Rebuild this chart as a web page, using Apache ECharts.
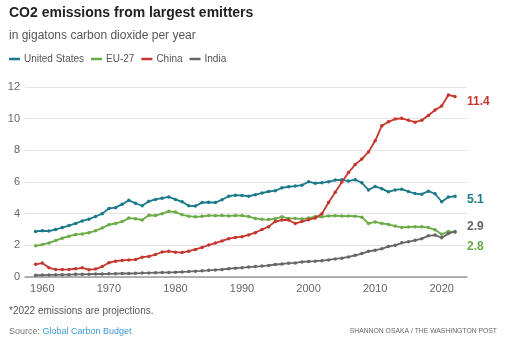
<!DOCTYPE html>
<html>
<head>
<meta charset="utf-8">
<script src="https://cdn.jsdelivr.net/npm/echarts@6/dist/echarts.min.js"></script>
<style>
html,body{margin:0;padding:0;background:#fff;}
#chart{width:512px;height:348px;}
</style>
</head>
<body>
<div id="chart"></div>
<script>
const years = [1959,1960,1961,1962,1963,1964,1965,1966,1967,1968,
  1969,1970,1971,1972,1973,1974,1975,1976,1977,1978,
  1979,1980,1981,1982,1983,1984,1985,1986,1987,1988,
  1989,1990,1991,1992,1993,1994,1995,1996,1997,1998,
  1999,2000,2001,2002,2003,2004,2005,2006,2007,2008,
  2009,2010,2011,2012,2013,2014,2015,2016,2017,2018,
  2019,2020,2021,2022];
const unitedStates = [2.88,2.92,2.90,3.00,3.12,3.25,3.38,3.54,3.65,3.82,
  4.00,4.33,4.38,4.60,4.84,4.66,4.50,4.78,4.90,4.98,
  5.06,4.90,4.75,4.50,4.48,4.70,4.72,4.70,4.88,5.10,
  5.17,5.15,5.10,5.20,5.30,5.40,5.45,5.63,5.70,5.74,
  5.80,6.02,5.92,5.96,6.01,6.12,6.14,6.06,6.15,5.95,
  5.50,5.72,5.58,5.38,5.50,5.55,5.40,5.27,5.23,5.42,
  5.26,4.75,5.05,5.10];
const eu27 = [1.97,2.05,2.15,2.30,2.45,2.58,2.68,2.72,2.80,2.92,
  3.10,3.30,3.38,3.50,3.72,3.68,3.60,3.90,3.88,4.00,
  4.15,4.10,3.93,3.84,3.80,3.83,3.88,3.87,3.88,3.86,
  3.88,3.88,3.82,3.70,3.64,3.63,3.68,3.80,3.70,3.70,
  3.66,3.72,3.82,3.80,3.86,3.87,3.85,3.86,3.84,3.78,
  3.38,3.48,3.38,3.32,3.22,3.13,3.16,3.17,3.18,3.12,
  2.98,2.70,2.88,2.83];
const china = [0.80,0.88,0.58,0.48,0.47,0.48,0.52,0.58,0.46,0.50,
  0.66,0.90,1.00,1.05,1.08,1.10,1.25,1.30,1.42,1.58,
  1.62,1.57,1.54,1.63,1.74,1.87,2.02,2.14,2.28,2.42,
  2.50,2.55,2.66,2.80,3.00,3.18,3.50,3.60,3.60,3.38,
  3.50,3.62,3.72,4.00,4.70,5.35,6.00,6.60,7.10,7.45,
  7.90,8.60,9.55,9.80,9.98,10.02,9.90,9.78,9.90,10.20,
  10.55,10.80,11.50,11.40];
const india = [0.11,0.12,0.13,0.14,0.15,0.15,0.17,0.17,0.18,0.19,
  0.19,0.20,0.21,0.22,0.22,0.23,0.25,0.26,0.27,0.28,
  0.29,0.30,0.32,0.34,0.37,0.39,0.42,0.45,0.48,0.52,
  0.56,0.59,0.63,0.66,0.69,0.73,0.79,0.82,0.87,0.89,
  0.95,0.98,1.00,1.03,1.08,1.14,1.19,1.27,1.37,1.48,
  1.62,1.69,1.78,1.93,2.00,2.16,2.22,2.32,2.42,2.60,
  2.65,2.48,2.74,2.88];
const seriesNames = ['United States','EU-27','China','India'];
const endLabels = ['5.1','2.8','11.4','2.9'];
const yTicks = [0,2,4,6,8,10,12];
const xTickYears = [1960,1970,1980,1990,2000,2010,2020];

const colors = ['#1b7a89','#6aab45','#c5372d','#666666'];
const labelOffsets = [[0,3],[0,14],[0,5],[0,-5]];
const FONT = 'Liberation Sans';

function pairs(vals){ return years.map((y,i)=>[y, vals[i]]); }
const allVals = [unitedStates, eu27, china, india];

const chart = echarts.init(document.getElementById('chart'), null, {renderer:'canvas'});
chart.setOption({
  animation:false,
  color: colors,
  textStyle:{fontFamily:FONT},
  title:[
    {text:'CO2 emissions from largest emitters', left:4, top:1,
      textStyle:{fontSize:14, fontWeight:'bold', color:'#222', fontFamily:FONT}},
    {text:'in gigatons carbon dioxide per year', left:4, top:25,
      textStyle:{fontSize:12, fontWeight:'normal', color:'#555', fontFamily:FONT}},
    {text:'*2022 emissions are projections.', left:4, top:301,
      textStyle:{fontSize:10, fontWeight:'normal', color:'#555', fontFamily:FONT}},
    {text:'{a|Source: }{b|Global Carbon Budget}', left:4, top:322,
      textStyle:{fontSize:9, fontWeight:'normal', fontFamily:FONT,
        rich:{a:{fontSize:9,color:'#777',fontFamily:FONT},b:{fontSize:9,color:'#3a9ad9',fontFamily:FONT}}}},
    {text:'SHANNON OSAKA / THE WASHINGTON POST', right:10, top:323,
      textStyle:{fontSize:6.8, fontWeight:'normal', color:'#666', fontFamily:FONT}}
  ],
  legend:{
    data: seriesNames, left:4, top:49, icon:'rect', itemWidth:11, itemHeight:2.5,
    itemGap:7, textStyle:{fontSize:10, color:'#555', fontFamily:FONT, padding:[0,0,0,-1]}
  },
  grid:{left:25, right:45, top:87, bottom:71, containLabel:false},
  xAxis:{
    type:'value', min:1957.4, max:2023.8, splitNumber:6,
    axisLine:{show:true, lineStyle:{color:'#999', width:1.5}},
    axisTick:{show:false},
    splitLine:{show:false},
    axisLabel:{color:'#666', fontSize:11, margin:6, showMinLabel:true, showMaxLabel:true,
      formatter:function(v){ return xTickYears.indexOf(Math.round(v*100)/100)>=0 ? String(v) : ''; }}
  },
  yAxis:{
    type:'value', min:0, max:12, interval:2,
    axisLine:{show:false}, axisTick:{show:false},
    splitLine:{lineStyle:{color:'#e4e4e4', width:1}},
    axisLabel:{color:'#666', fontSize:11, margin:5,
      formatter:function(v){ return yTicks.indexOf(v)>=0 ? String(v) : ''; }}
  },
  series: seriesNames.map((n,i)=>({
    name:n, type:'line', data:pairs(allVals[i]),
    symbol:'circle', symbolSize:3.5, showSymbol:true,
    lineStyle:{width:1.8, color:colors[i]},
    itemStyle:{color:colors[i]},
    z: i===2 ? 5 : (i===3 ? 4 : 3),
    endLabel:{show:true, formatter:endLabels[i], distance:12, offset:labelOffsets[i],
      color:colors[i], fontWeight:'bold', fontSize:12, fontFamily:FONT}
  }))
});
</script>
</body>
</html>
